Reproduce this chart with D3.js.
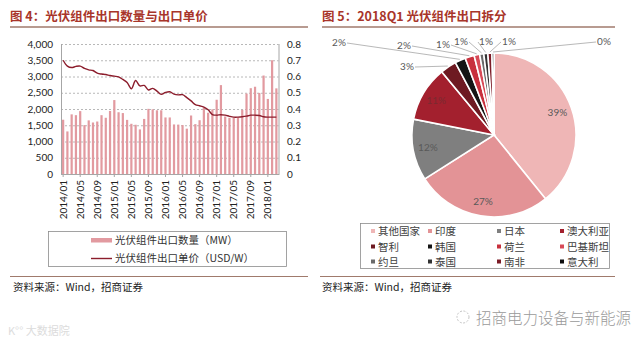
<!DOCTYPE html>
<html><head><meta charset="utf-8">
<script src="https://cdn.jsdelivr.net/npm/d3@7/dist/d3.min.js"></script>
<style>
body{margin:0;background:#fff;}
svg{display:block;font-family:"Noto Sans CJK SC","Noto Sans",sans-serif;}
</style></head><body>
<svg id="c" width="640" height="344"></svg>
<script>
// ---------- data: figure 4 ----------
const months = [];
for (let y = 2014; y <= 2018; y++) for (let m = 1; m <= 12; m++) {
  if (y === 2018 && m > 3) break;
  months.push(y + "/" + String(m).padStart(2, "0"));
}
const exportVolume = [1670,1310,1835,1810,1935,1505,1650,1585,1615,1810,1730,1940,
  2275,1900,1875,1665,1545,1515,1372,1695,2005,1990,1960,1960,
  1740,1740,1525,1520,1505,1395,1800,1535,1655,2040,1885,1990,
  2285,2735,1770,1730,1730,1740,1975,2475,2640,2685,2495,3030,
  2310,3500,2635];
const exportPrice = [0.700,0.664,0.655,0.662,0.664,0.650,0.641,0.637,0.621,0.615,0.612,0.606,
  0.602,0.598,0.582,0.563,0.525,0.575,0.542,0.545,0.517,0.527,0.510,0.490,
  0.502,0.506,0.492,0.487,0.488,0.470,0.450,0.427,0.420,0.412,0.395,0.366,
  0.362,0.365,0.362,0.355,0.350,0.350,0.352,0.356,0.362,0.362,0.360,0.352,
  0.350,0.350,0.350];
const leftTicks = [0,500,1000,1500,2000,2500,3000,3500,4000];
const rightTicks = [0,0.1,0.2,0.3,0.4,0.5,0.6,0.7,0.8];
const xTickLabels = ["2014/01","2014/05","2014/09","2015/01","2015/05","2015/09","2016/01","2016/05","2016/09","2017/01","2017/05","2017/09","2018/01"];
const legend4 = ["光伏组件出口数量（MW）","光伏组件出口单价（USD/W）"];

// ---------- data: figure 5 ----------
const countries = ["其他国家","印度","日本","澳大利亚","智利","韩国","荷兰","巴基斯坦","约旦","泰国","南非","意大利"];
const shares = [39.2,26.8,12.1,10.9,3.2,2.1,1.8,1.1,0.8,0.8,0.8,0.4];
const sliceColors = ["#efb6b6","#e39396","#7f7f7f","#a3202e","#6e1a22","#151515","#c8303d","#d84a57","#6a6a6a","#333333","#7c1c27","#0d0d0d"];

const svg = d3.select("#c");
const titleColor = "#a8352a", ruleColor = "#a07a6c";

// ================= Figure 4 =================
svg.append("text").attr("x", 10).attr("y", 21).attr("font-size", 12.5).attr("font-weight", 700)
  .attr("fill", titleColor).text("图 4：光伏组件出口数量与出口单价");
svg.append("line").attr("x1", 10).attr("x2", 308).attr("y1", 27).attr("y2", 27)
  .attr("stroke", ruleColor).attr("stroke-width", 1.5);

const L = {x0: 61, x1: 278.5, y0: 44, y1: 174};
const x = d3.scaleBand().domain(months).range([L.x0, L.x1]).paddingInner(0.48).paddingOuter(0.24);
const yL = d3.scaleLinear().domain([0, 4000]).range([L.y1, L.y0]);
const yR = d3.scaleLinear().domain([0, 0.8]).range([L.y1, L.y0]);

const g4 = svg.append("g");
// grid
g4.selectAll("line.grid").data(leftTicks.filter(d => d > 0)).join("line")
  .attr("x1", L.x0).attr("x2", L.x1).attr("y1", d => yL(d) + 0.5).attr("y2", d => yL(d) + 0.5)
  .attr("stroke", "#a6a6a6").attr("stroke-dasharray", "2,2").attr("stroke-width", 0.8);
// bars
g4.selectAll("rect.bar").data(exportVolume).join("rect")
  .attr("x", (d, i) => x(months[i])).attr("width", x.bandwidth())
  .attr("y", d => yL(d)).attr("height", d => yL(0) - yL(d))
  .attr("fill", "#e29aa0");
// line
const line = d3.line().x((d, i) => x(months[i]) + x.bandwidth() / 2).y(d => yR(d)).curve(d3.curveCatmullRom.alpha(0.5));
g4.append("path").datum(exportPrice).attr("d", line).attr("fill", "none")
  .attr("stroke", "#8c1d2c").attr("stroke-width", 1.4);
// frame
g4.append("line").attr("x1", L.x0 + 0.5).attr("x2", L.x0 + 0.5).attr("y1", L.y0).attr("y2", L.y1).attr("stroke", "#a6a6a6");
g4.append("line").attr("x1", L.x1 + 0.5).attr("x2", L.x1 + 0.5).attr("y1", L.y0).attr("y2", L.y1).attr("stroke", "#a6a6a6");
g4.append("line").attr("x1", L.x0).attr("x2", L.x1 + 1).attr("y1", L.y1 + 0.5).attr("y2", L.y1 + 0.5).attr("stroke", "#a6a6a6");
// left axis labels
g4.selectAll("text.yl").data(leftTicks).join("text")
  .attr("x", 53).attr("y", d => yL(d) + 3.5).attr("text-anchor", "end")
  .attr("font-size", 10).attr("font-family", "Lato, 'Liberation Sans', sans-serif").attr("fill", "#222")
  .text(d => d3.format(",")(d));
g4.selectAll("text.yr").data(rightTicks).join("text")
  .attr("x", 287).attr("y", d => yR(d) + 3.5).attr("text-anchor", "start")
  .attr("font-size", 10).attr("font-family", "Lato, 'Liberation Sans', sans-serif").attr("fill", "#222")
  .text(d => d === 0 ? "0" : d3.format(".1f")(d));
// x ticks & labels
g4.selectAll("line.xt").data(xTickLabels).join("line")
  .attr("x1", d => x(d) + x.bandwidth() / 2).attr("x2", d => x(d) + x.bandwidth() / 2)
  .attr("y1", L.y1).attr("y2", L.y1 + 3).attr("stroke", "#a6a6a6");
g4.selectAll("text.xl").data(xTickLabels).join("text")
  .attr("transform", d => `translate(${x(d) + x.bandwidth() / 2 + 3.5},${L.y1 + 6}) rotate(-90)`)
  .attr("text-anchor", "end").attr("font-size", 10).attr("font-family", "Lato, 'Liberation Sans', sans-serif").attr("fill", "#222")
  .text(d => d);
// legend
svg.append("rect").attr("x", 48.5).attr("y", 231.5).attr("width", 238).attr("height", 35)
  .attr("fill", "none").attr("stroke", "#8c8c8c").attr("stroke-width", 0.8);
svg.append("rect").attr("x", 91).attr("y", 238).attr("width", 21).attr("height", 4.5).attr("fill", "#e29aa0");
svg.append("line").attr("x1", 91).attr("x2", 112).attr("y1", 258.5).attr("y2", 258.5).attr("stroke", "#8c1d2c").attr("stroke-width", 1.4);
svg.selectAll("text.lg4").data(legend4).join("text")
  .attr("x", 115).attr("y", (d, i) => 244 + i * 18.3).attr("font-size", 10.5).attr("fill", "#333").text(d => d);
svg.append("line").attr("x1", 10).attr("x2", 308).attr("y1", 276.5).attr("y2", 276.5).attr("stroke", ruleColor).attr("stroke-width", 1);
svg.append("text").attr("x", 13).attr("y", 291).attr("font-size", 10.5).attr("fill", "#222").text("资料来源：Wind，招商证券");

// ================= Figure 5 =================
svg.append("text").attr("x", 322).attr("y", 21).attr("font-size", 12.5).attr("font-weight", 700)
  .attr("fill", titleColor).text("图 5：2018Q1 光伏组件出口拆分");
svg.append("line").attr("x1", 322).attr("x2", 615).attr("y1", 27).attr("y2", 27)
  .attr("stroke", ruleColor).attr("stroke-width", 1.5);

const cx = 494, cy = 135, R = 82;
const pie = d3.pie().sort(null).value(d => d)(shares);
const arc = d3.arc().innerRadius(0).outerRadius(R);
const gp = svg.append("g").attr("transform", `translate(${cx},${cy})`);
gp.selectAll("path").data(pie).join("path").attr("d", arc)
  .attr("fill", (d, i) => sliceColors[i]).attr("stroke", "#fff").attr("stroke-width", 1.6);

// inside labels (big slices)
const inArc = d3.arc().innerRadius(R * 0.82).outerRadius(R * 0.82);
gp.selectAll("text.in").data(pie.slice(0, 4)).join("text")
  .attr("x", d => inArc.centroid(d)[0]).attr("y", d => inArc.centroid(d)[1] + 3.5)
  .attr("text-anchor", "middle").attr("font-size", 10).attr("font-family", "Lato, 'Liberation Sans', sans-serif")
  .attr("fill", (d, i) => i === 3 ? "#7a2a30" : "#595959")
  .text(d => Math.round(d.data) + "%");

// outer labels (small slices) – label anchor positions (layout)
const outerPos = [[407,66],[339,42],[404,45],[443,44],[461,41],[486,41],[509,41],[604,41]];
pie.slice(4).forEach((d, k) => {
  const [lx, ly] = outerPos[k];
  const a = (d.startAngle + d.endAngle) / 2;
  const px = cx + (R + 1) * Math.sin(a), py = cy - (R + 1) * Math.cos(a);
  const sx = lx < px ? lx + 8 : lx - 8;
  svg.append("line").attr("x1", sx).attr("y1", ly + 1).attr("x2", px).attr("y2", py)
    .attr("stroke", "#a6a6a6").attr("stroke-width", 0.8);
  svg.append("text").attr("x", lx).attr("y", ly + 3.5).attr("text-anchor", "middle")
    .attr("font-size", 10).attr("font-family", "Lato, 'Liberation Sans', sans-serif").attr("fill", "#595959")
    .text(Math.round(d.data) + "%");
});

// legend
svg.append("rect").attr("x", 360.5).attr("y", 223.5).attr("width", 249).attr("height", 45)
  .attr("fill", "none").attr("stroke", "#8c8c8c").attr("stroke-width", 0.8);
const colX = [373, 430, 499, 562];
const rowY = [231, 246.5, 261.5];
countries.forEach((c, i) => {
  const cxl = colX[i % 4], cyl = rowY[Math.floor(i / 4)];
  svg.append("rect").attr("x", cxl - 2).attr("y", cyl - 2).attr("width", 4).attr("height", 4).attr("fill", sliceColors[i]);
  svg.append("text").attr("x", cxl + 5).attr("y", cyl + 4).attr("font-size", 10.5).attr("fill", "#404040").text(c);
});
svg.append("line").attr("x1", 320).attr("x2", 615).attr("y1", 276.5).attr("y2", 276.5).attr("stroke", ruleColor).attr("stroke-width", 1);
svg.append("text").attr("x", 322).attr("y", 291).attr("font-size", 10.5).attr("fill", "#222").text("资料来源：Wind，招商证券");

// watermarks
svg.append("text").attr("x", 476).attr("y", 324).attr("font-size", 15.5).attr("fill", "#9a9a9a").attr("font-weight", 300).text("招商电力设备与新能源");
svg.append("circle").attr("cx", 463).attr("cy", 317).attr("r", 6).attr("fill", "none").attr("stroke", "#c4c4c4").attr("stroke-dasharray", "2,1.5");
svg.append("text").attr("x", 8).attr("y", 335).attr("font-size", 11).attr("fill", "#dcdcdc").text("K°° 大数据院");
</script></body></html>
